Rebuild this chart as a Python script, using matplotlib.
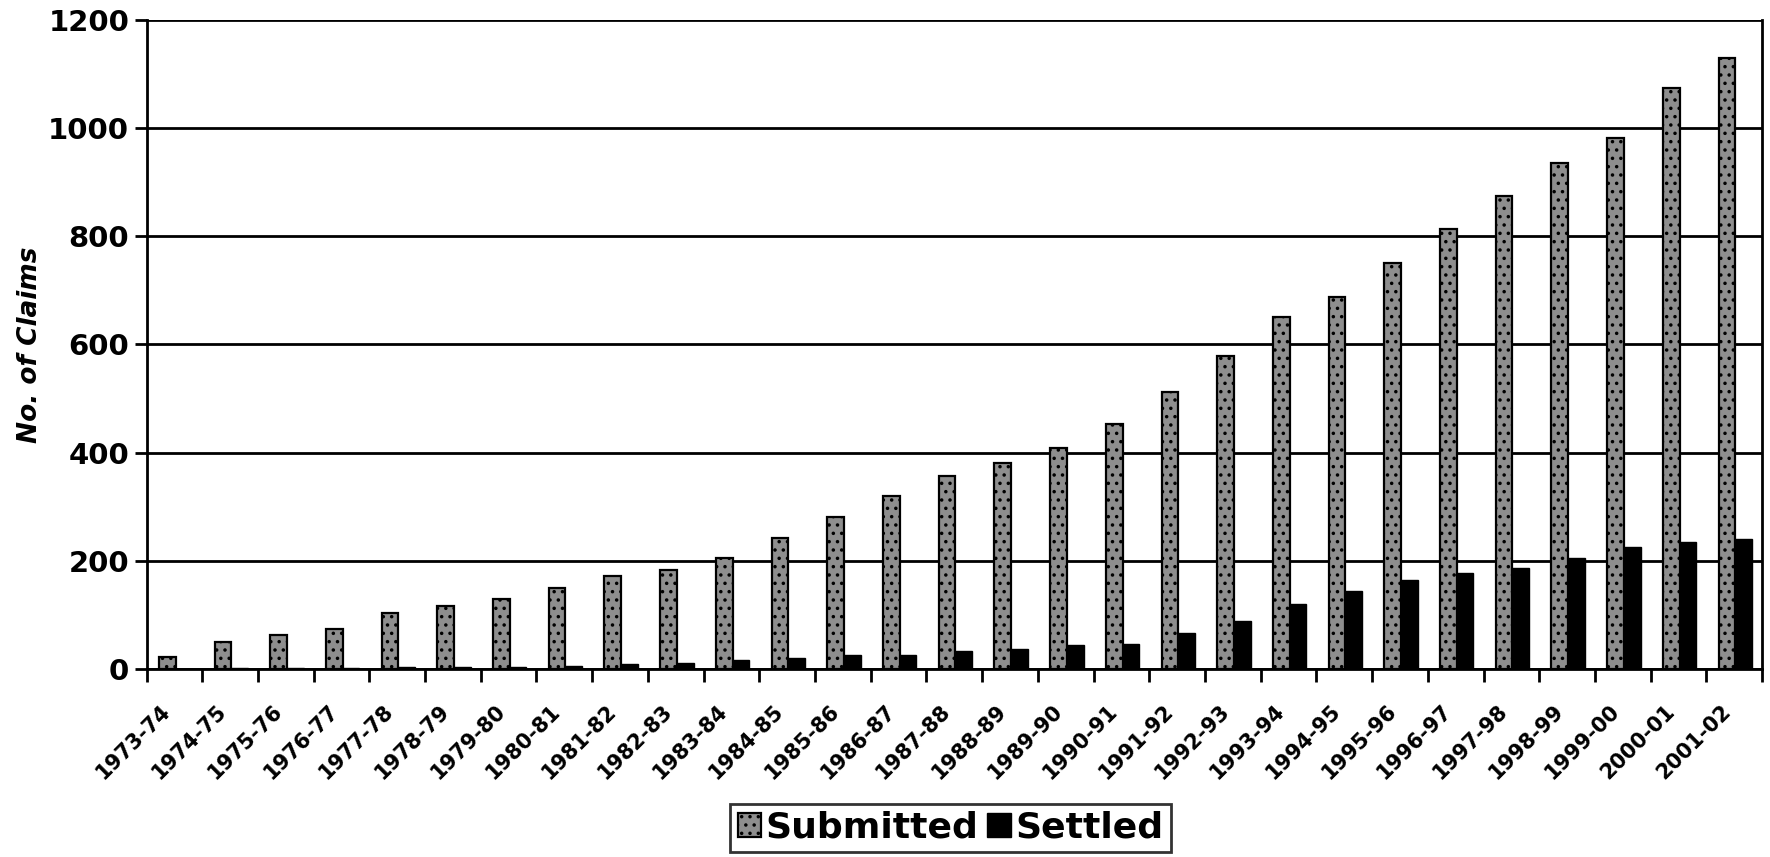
import numpy as np
import matplotlib.pyplot as plt

plt.rcParams['font.family'] = ['DejaVu Sans']
plt.rcParams['hatch.linewidth'] = 1.3

years = ['1973-74', '1974-75', '1975-76', '1976-77', '1977-78', '1978-79',
         '1979-80', '1980-81', '1981-82', '1982-83', '1983-84', '1984-85',
         '1985-86', '1986-87', '1987-88', '1988-89', '1989-90', '1990-91',
         '1991-92', '1992-93', '1993-94', '1994-95', '1995-96', '1996-97',
         '1997-98', '1998-99', '1999-00', '2000-01', '2001-02']
submitted = [23, 50, 62, 73, 103, 116, 130, 149, 171, 183, 205, 242,
             281, 319, 356, 380, 409, 453, 512, 579, 650, 688, 750, 814,
             874, 935, 982, 1074, 1130]
settled = [0, 1, 2, 2, 3, 3, 4, 5, 9, 11, 16, 21,
           25, 26, 34, 37, 44, 47, 66, 89, 120, 145, 164, 177,
           187, 206, 226, 234, 240]

x = np.arange(len(years))
w = 0.3

fig = plt.figure(figsize=(17.7, 8.57), dpi=100)
ax = fig.add_axes([0.0828, 0.2194, 0.9127, 0.7573])

ax.bar(x - 0.13, submitted, w, color='#8e8e8e', edgecolor='black',
       linewidth=1.6, hatch='..', label='Submitted', zorder=3)
ax.bar(x + 0.17, settled, w, color='black', edgecolor='black',
       linewidth=1.0, label='Settled', zorder=3)

ax.set_xlim(-0.5, len(years) - 0.5)
ax.set_ylim(0, 1200)
ax.set_yticks(np.arange(0, 1201, 200))
ax.yaxis.grid(True, color='black', linewidth=2)
ax.set_axisbelow(True)

# labels sit a little left of the category centre, well below the axis
ax.set_xticks(x - 0.25)
ax.set_xticklabels(years, rotation=45, ha='right', rotation_mode='anchor',
                   fontsize=15, fontweight='heavy')
ax.set_xticks(np.arange(-0.5, len(years), 1), minor=True)
ax.tick_params(axis='x', which='major', length=0, pad=23)
ax.tick_params(axis='x', which='minor', length=9, width=2, direction='out')
ax.tick_params(axis='y', length=9, width=2, direction='out', labelsize=21)
for lab in ax.get_yticklabels():
    lab.set_fontweight('bold')

ax.spines['top'].set_visible(False)
for s in ['left', 'bottom', 'right']:
    ax.spines[s].set_linewidth(2)

ax.set_ylabel('No. of Claims', fontsize=19, fontweight='bold', style='italic')
ax.yaxis.set_label_coords(-0.064, 0.5)

leg = fig.legend(loc='center', bbox_to_anchor=(0.537, 0.034), ncol=2,
                 frameon=True, fancybox=False, edgecolor='black',
                 prop={'size': 26, 'weight': 'bold'}, handlelength=0.65,
                 handleheight=0.65, handletextpad=0.12, columnspacing=0.25,
                 borderpad=0.2)
leg.get_frame().set_linewidth(2)

fig.savefig('out.png', dpi=100, facecolor='white')
